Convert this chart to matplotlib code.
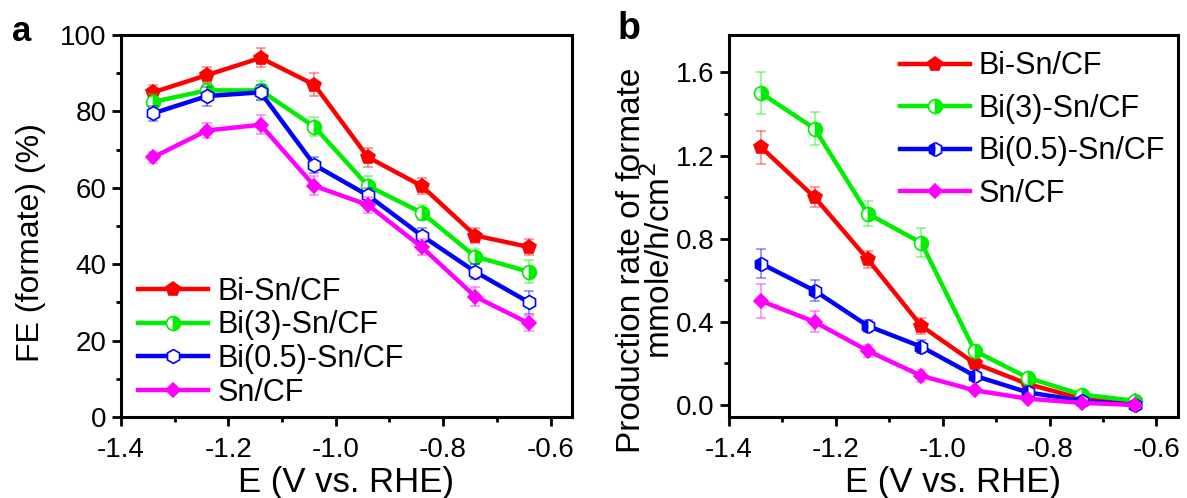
import numpy as np
import matplotlib.pyplot as plt
from matplotlib.ticker import MultipleLocator

plt.rcParams['font.family'] = ['Liberation Sans', 'DejaVu Sans']

E = [-1.34, -1.24, -1.14, -1.04, -0.94, -0.84, -0.74, -0.64]
labels = ['Bi-Sn/CF', 'Bi(3)-Sn/CF', 'Bi(0.5)-Sn/CF', 'Sn/CF']
colors = ['#ff0000', '#00ee00', '#0000ff', '#ff00ff']

# FE (%)
fe_bisn = [85.0, 89.5, 94.0, 87.0, 68.0, 60.5, 47.5, 44.5]
fe_bi3 = [82.5, 85.5, 85.5, 76.0, 60.5, 53.5, 42.0, 38.0]
fe_bi05 = [79.5, 84.0, 85.0, 66.0, 58.0, 47.5, 38.0, 30.0]
fe_sn = [68.0, 75.0, 76.5, 60.5, 55.5, 44.5, 31.5, 24.5]
fe_err_bisn = [2.0, 2.0, 2.5, 3.0, 2.5, 2.0, 2.0, 2.0]
fe_err_bi3 = [2.0, 2.0, 2.5, 2.5, 2.5, 2.0, 2.0, 3.0]
fe_err_bi05 = [2.0, 2.5, 2.0, 2.0, 2.0, 2.0, 2.0, 3.0]
fe_err_sn = [1.5, 2.0, 2.5, 2.5, 2.0, 2.0, 2.5, 2.0]

# production rate (mmole/h/cm2)
pr_bisn = [1.24, 1.00, 0.70, 0.38, 0.20, 0.10, 0.03, 0.02]
pr_bi3 = [1.50, 1.33, 0.92, 0.78, 0.26, 0.13, 0.05, 0.02]
pr_bi05 = [0.68, 0.55, 0.38, 0.28, 0.14, 0.06, 0.02, 0.00]
pr_sn = [0.50, 0.40, 0.26, 0.14, 0.07, 0.03, 0.01, 0.00]
pr_err_bisn = [0.08, 0.05, 0.04, 0.04, 0.02, 0.01, 0.01, 0.01]
pr_err_bi3 = [0.10, 0.08, 0.06, 0.07, 0.03, 0.01, 0.01, 0.01]
pr_err_bi05 = [0.07, 0.05, 0.03, 0.03, 0.02, 0.01, 0.01, 0.01]
pr_err_sn = [0.08, 0.05, 0.03, 0.03, 0.01, 0.01, 0.01, 0.01]

fig = plt.figure(figsize=(11.87, 4.98), dpi=100)
ax1 = fig.add_axes([0.1019, 0.1627, 0.380, 0.767])
ax2 = fig.add_axes([0.6142, 0.1627, 0.378, 0.767])


def style(ax):
    for s in ax.spines.values():
        s.set_linewidth(2.2)
    ax.tick_params(which='major', direction='out', length=6.5, width=2, labelsize=20,
                   top=False, right=False, pad=4)
    ax.tick_params(axis='x', which='major', pad=8)
    ax.tick_params(which='minor', direction='out', length=3.5, width=2,
                   top=False, right=False)
    ax.set_xlim(-1.4, -0.56)
    ax.xaxis.set_minor_locator(MultipleLocator(0.1))
    ax.set_xticks([-1.4, -1.2, -1.0, -0.8, -0.6])
    ax.set_xticklabels(['-1.4', '-1.2', '-1.0', '-0.8', '-0.6'])
    ax.set_xlabel('E (V vs. RHE)', fontsize=25, labelpad=2)


# panel a
series_a = [(fe_bisn, fe_err_bisn), (fe_bi3, fe_err_bi3), (fe_bi05, fe_err_bi05), (fe_sn, fe_err_sn)]
marks_a = [dict(marker='p', mfc=colors[0]),
           dict(marker='o', mfc=colors[1], fillstyle='right', markerfacecoloralt='white'),
           dict(marker='h', mfc='white'),
           dict(marker='D', mfc=colors[3], markersize=7.5)]
for (y, e), c, lab, m in zip(series_a, colors, labels, marks_a):
    ax1.errorbar(E, y, yerr=e, fmt='none', ecolor=c, alpha=0.45, elinewidth=1.2, capsize=3.5, capthick=1.2)
    kw = dict(markersize=10, markeredgewidth=1.2)
    kw.update(m)
    ax1.plot(E, y, color=c, lw=3.2, mec=c, label=lab, **kw)

style(ax1)
ax1.set_ylim(0, 100)
ax1.yaxis.set_major_locator(MultipleLocator(20))
ax1.yaxis.set_minor_locator(MultipleLocator(10))
ax1.set_ylabel('FE (formate) (%)', fontsize=23)
ax1.yaxis.set_label_coords(-0.166, 0.457)
ax1.legend(loc='lower left', bbox_to_anchor=(-0.01, -0.032), frameon=False, fontsize=22,
           handlelength=2.3, handletextpad=0.3, labelspacing=0.12, borderaxespad=0.3)

# panel b
series_b = [(pr_bisn, pr_err_bisn), (pr_bi3, pr_err_bi3), (pr_bi05, pr_err_bi05), (pr_sn, pr_err_sn)]
marks_b = [dict(marker='p', mfc=colors[0]),
           dict(marker='o', mfc=colors[1], fillstyle='right', markerfacecoloralt='white'),
           dict(marker='h', mfc=colors[2], fillstyle='left', markerfacecoloralt='white'),
           dict(marker='D', mfc=colors[3], markersize=7.5)]
for (y, e), c, lab, m in zip(series_b, colors, labels, marks_b):
    ax2.errorbar(E, y, yerr=e, fmt='none', ecolor=c, alpha=0.45, elinewidth=1.2, capsize=3.5, capthick=1.2)
    kw = dict(markersize=10, markeredgewidth=1.2)
    kw.update(m)
    ax2.plot(E, y, color=c, lw=3.2, mec=c, label=lab, **kw)

style(ax2)
ax2.set_ylim(-0.058, 1.78)
ax2.set_yticks([0.0, 0.4, 0.8, 1.2, 1.6])
ax2.yaxis.set_minor_locator(MultipleLocator(0.2))
ax2.set_ylabel('Production rate of formate\nmmole/h/cm$^2$', fontsize=24, linespacing=0.85)
ax2.yaxis.set_label_coords(-0.115, 0.41)
ax2.legend(loc='upper right', bbox_to_anchor=(1.02, 1.013), frameon=False, fontsize=22,
           handlelength=2.3, handletextpad=0.3, labelspacing=0.41, borderaxespad=0.3)

fig.text(0.010, 0.918, 'a', fontsize=25, fontweight='bold', va='baseline')
fig.text(0.520, 0.922, 'b', fontsize=27, fontweight='bold', va='baseline')

fig.savefig('out.png', dpi=100)
